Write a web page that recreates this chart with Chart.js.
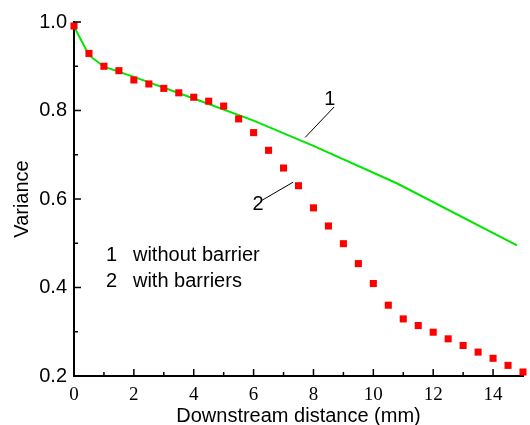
<!DOCTYPE html>
<html>
<head>
<meta charset="utf-8">
<script src="https://cdn.jsdelivr.net/npm/chart.js@4.4.0/dist/chart.umd.min.js"></script>
<style>
html,body{margin:0;padding:0;background:#fff;}
#wrap{width:530px;height:425px;position:relative;}
</style>
</head>
<body>
<div id="wrap"><canvas id="c" width="530" height="425"></canvas></div>
<script>
// Data
const barrierX = [0,0.5,1,1.5,2,2.5,3,3.5,4,4.5,5,5.5,6,6.5,7,7.5,8,8.5,9,9.5,10,10.5,11,11.5,12,12.5,13,13.5,14,14.5,15,15.15];
const barrierY = [0.991,0.929,0.900,0.890,0.869,0.860,0.850,0.840,0.830,0.821,0.810,0.781,0.750,0.710,0.670,0.630,0.580,0.539,0.499,0.454,0.409,0.360,0.329,0.314,0.299,0.284,0.269,0.254,0.240,0.224,0.209,0.204];
const noBarrierX = [0,0.5,1,2,4,6,8,10.8,14.8];
const noBarrierY = [0.99,0.925,0.899,0.876,0.827,0.777,0.72,0.635,0.495];
const xTicks = [0,2,4,6,8,10,12,14];
const yTicks = [0.2,0.4,0.6,0.8,1.0];
const xMinorTicks = [1,3,5,7,9,11,13];
const yMinorTicks = [0.3,0.5,0.7,0.9];
const legendLines = ["1  without barrier","2  with barriers"];

const toPts = (xs, ys) => xs.map((x,i)=>({x:x,y:ys[i]}));

const inwardTicks = {
  id:'inwardTicks',
  afterDraw(chart){
    const {ctx, scales:{x,y}} = chart;
    const x0 = x.getPixelForValue(0), y0 = y.getPixelForValue(0.2);
    ctx.save();
    ctx.strokeStyle = '#000';
    ctx.lineWidth = 1.5;
    ctx.beginPath();
    xTicks.forEach(v=>{const p=x.getPixelForValue(v); ctx.moveTo(p,y0); ctx.lineTo(p,y0-7);});
    xMinorTicks.forEach(v=>{const p=x.getPixelForValue(v); ctx.moveTo(p,y0); ctx.lineTo(p,y0-4);});
    yTicks.forEach(v=>{const p=y.getPixelForValue(v); ctx.moveTo(x0,p); ctx.lineTo(x0+7,p);});
    yMinorTicks.forEach(v=>{const p=y.getPixelForValue(v); ctx.moveTo(x0,p); ctx.lineTo(x0+4,p);});
    ctx.stroke();

    // annotations
    ctx.fillStyle = '#000';
    ctx.font = '20px "Liberation Sans", Arial, sans-serif';
    ctx.textBaseline = 'middle';
    ctx.textAlign = 'left';
    ctx.fillText('1', x.getPixelForValue(1.2)-4, y.getPixelForValue(0.473));
    ctx.fillText('without barrier', x.getPixelForValue(1.97), y.getPixelForValue(0.473));
    ctx.fillText('2', x.getPixelForValue(1.2)-4, y.getPixelForValue(0.414));
    ctx.fillText('with barriers', x.getPixelForValue(1.97), y.getPixelForValue(0.414));
    ctx.textAlign = 'center';
    ctx.fillText('1', x.getPixelForValue(8.55), y.getPixelForValue(0.826));
    ctx.fillText('2', x.getPixelForValue(6.15), y.getPixelForValue(0.588));
    ctx.lineWidth = 1;
    ctx.beginPath();
    ctx.moveTo(x.getPixelForValue(8.69), y.getPixelForValue(0.808));
    ctx.lineTo(x.getPixelForValue(7.72), y.getPixelForValue(0.739));
    ctx.moveTo(x.getPixelForValue(6.28), y.getPixelForValue(0.597));
    ctx.lineTo(x.getPixelForValue(7.32), y.getPixelForValue(0.638));
    ctx.stroke();
    ctx.restore();
  }
};

new Chart(document.getElementById('c'), {
  type:'scatter',
  data:{
    datasets:[
      {label:legendLines[0], data:toPts(noBarrierX,noBarrierY), showLine:true, borderColor:'#00e600', borderWidth:2, pointRadius:0, fill:false, tension:0, clip:false, order:2},
      {label:legendLines[1], data:toPts(barrierX,barrierY), showLine:false, pointStyle:'rect', pointRadius:5, backgroundColor:'#ff0000', borderColor:'#ff0000', borderWidth:0, clip:false, order:1}
    ]
  },
  options:{
    responsive:false,
    animation:false,
    layout:{padding:{top:22,right:7,left:0,bottom:0}},
    plugins:{legend:{display:false}, tooltip:{enabled:false}},
    scales:{
      x:{
        type:'linear', min:0, max:15,
        afterBuildTicks(s){ s.ticks = xTicks.map(v=>({value:v})); },
        afterFit(s){ s.height = 49; },
        grid:{display:false, drawTicks:false},
        border:{display:true, color:'#000', width:2},
        ticks:{color:'#000', font:{family:'"Liberation Serif", "Times New Roman", serif', size:19}, padding:8, maxRotation:0},
        title:{display:true, text:'Downstream distance (mm)', color:'#000', font:{family:'"Liberation Sans", Arial, sans-serif', size:20, lineHeight:1}, padding:{top:0,bottom:-1}}
      },
      y:{
        type:'linear', min:0.2, max:1.0,
        afterBuildTicks(s){ s.ticks = yTicks.map(v=>({value:v})); },
        afterFit(s){ s.width = 74; },
        grid:{display:false, drawTicks:false},
        border:{display:true, color:'#000', width:2},
        ticks:{color:'#000', font:{family:'"Liberation Sans", Arial, sans-serif', size:20}, padding:7, callback:(v)=>Number(v).toFixed(1)},
        title:{display:true, text:'Variance', color:'#000', font:{family:'"Liberation Sans", Arial, sans-serif', size:20, lineHeight:1}, padding:{top:12,bottom:0}}
      }
    }
  },
  plugins:[inwardTicks]
});
</script>
</body>
</html>
